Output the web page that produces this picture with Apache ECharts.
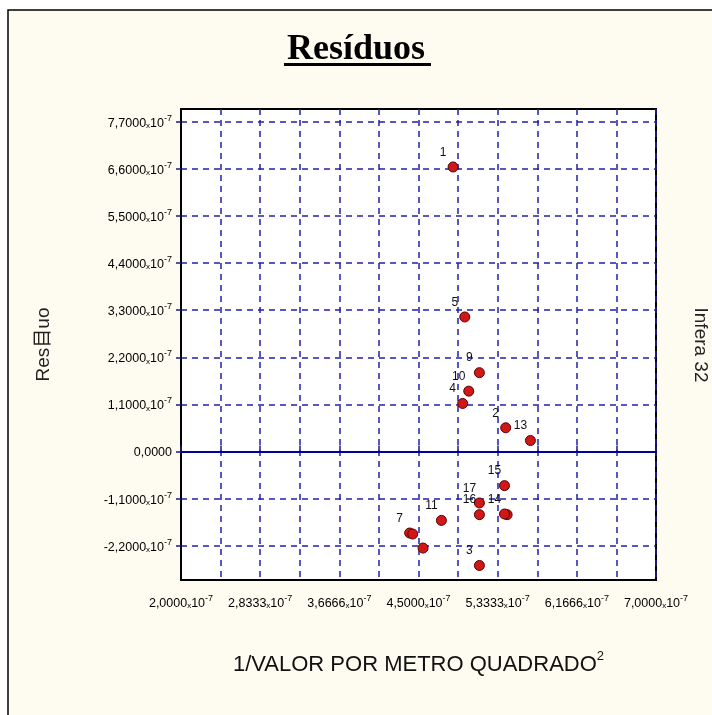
<!DOCTYPE html>
<html>
<head>
<meta charset="utf-8">
<script src="https://cdn.jsdelivr.net/npm/echarts@6/dist/echarts.min.js"></script>
<style>html,body{margin:0;padding:0;background:#fff}#c{width:712px;height:715px}</style>
</head>
<body>
<div id="c"></div>
<script>
// Data (x and y in units of 10^-7)
const pointIds = ['1','2','3','4','5','6','7','8','9','10','11','12','13','14','15','16','17'];
const xValues = [4.864, 5.418, 5.141, 4.965, 4.987, 4.548, 4.407, 4.439, 5.141, 5.029, 4.741, 5.433, 5.678, 5.405, 5.405, 5.141, 5.141];
const yValues = [6.646, 0.555, -2.661, 1.123, 3.143, -2.254, -1.903, -1.926, 1.842, 1.411, -1.608, -1.474, 0.257, -1.458, -0.796, -1.474, -1.201];
const hiddenLabels = ['6','8','12'];

// Axis ticks and labels
const xGridTicks = [2, 2.41667, 2.83333, 3.25, 3.66667, 4.08333, 4.5, 4.91667, 5.33333, 5.75, 6.16667, 6.58333, 7];
const xLabelValues = [2, 2.83333, 3.66667, 4.5, 5.33333, 6.16667, 7];
const xLabelTexts = ['2,0000','2,8333','3,6666','4,5000','5,3333','6,1666','7,0000'];
const yTickValues = [-2.2, -1.1, 0, 1.1, 2.2, 3.3, 4.4, 5.5, 6.6, 7.7];
const yLabelTexts = ['-2,2000','-1,1000','0,0000','1,1000','2,2000','3,3000','4,4000','5,5000','6,6000','7,7000'];

const titleText = 'Resíduos';
const xName = '1/VALOR POR METRO QUADRADO';
const yName = 'Res目uo';
const rightText = 'Infera 32';

function findLabel(vals, texts, v) {
  for (let i = 0; i < vals.length; i++) if (Math.abs(vals[i] - v) < 1e-3) return texts[i];
  return '';
}
function sci(t) {
  if (t === '0,0000') return '{n|' + t + '}';
  return '{n|' + t + '}{x|x}{n|10}{s|-7}';
}
const labelRich = {
  n: {fontSize: 12.5, fontFamily: 'Liberation Sans', color: '#000', lineHeight: 16, verticalAlign: 'bottom'},
  x: {fontSize: 8, fontFamily: 'Liberation Sans', color: '#000', lineHeight: 16, verticalAlign: 'bottom'},
  s: {fontSize: 9, fontFamily: 'Liberation Sans', color: '#000', lineHeight: 9, verticalAlign: 'top'}
};

const chart = echarts.init(document.getElementById('c'), null, {renderer: 'canvas'});
const data = pointIds.map((id, i) => {
  const item = {name: id, value: [xValues[i], yValues[i]]};
  if (hiddenLabels.indexOf(id) >= 0) item.label = {show: false};
  return item;
});

chart.setOption({
  backgroundColor: '#ffffff',
  animation: false,
  title: {
    text: titleText,
    left: 'center',
    top: 27,
    textStyle: {fontFamily: 'Liberation Serif', fontWeight: 'bold', fontSize: 36, color: '#000'}
  },
  graphic: [
    {type: 'rect', z: -10, silent: true, shape: {x: 8, y: 10, width: 720, height: 720},
     style: {fill: '#fefbf1', stroke: '#000', lineWidth: 1.5}},
    {type: 'rect', z: 10, silent: true, shape: {x: 284, y: 63, width: 147, height: 3},
     style: {fill: '#000'}},
    {type: 'text', z: 10, silent: true, x: 700, y: 345, rotation: -Math.PI / 2,
     style: {text: rightText, fontFamily: 'Liberation Sans', fontSize: 19, fill: '#222',
             align: 'center', verticalAlign: 'middle'}}
  ],
  grid: {
    left: 181, right: 56, top: 109, bottom: 135,
    show: true, backgroundColor: '#ffffff', borderColor: '#000', borderWidth: 2
  },
  xAxis: {
    type: 'value', min: 2, max: 7,
    name: '{a|' + xName + '}{b|2}',
    nameLocation: 'middle', nameGap: 70,
    nameTextStyle: {
      rich: {
        a: {fontSize: 22, fontFamily: 'Liberation Sans', color: '#111', lineHeight: 26, verticalAlign: 'bottom'},
        b: {fontSize: 13, fontFamily: 'Liberation Sans', color: '#111', lineHeight: 13, verticalAlign: 'top'}
      }
    },
    axisLine: {show: true, lineStyle: {color: '#000', width: 2}},
    axisTick: {show: true, inside: true, length: 6, customValues: xGridTicks, lineStyle: {color: '#1a1a80', width: 1.5}},
    axisLabel: {
      customValues: xLabelValues, margin: 14,
      formatter: v => sci(findLabel(xLabelValues, xLabelTexts, v)),
      rich: labelRich
    },
    splitLine: {show: true, lineStyle: {color: '#2020a8', width: 1.5, type: [6, 5]}}
  },
  yAxis: {
    type: 'value', min: -3, max: 8,
    name: yName, nameLocation: 'middle', nameGap: 128, nameRotate: 90,
    nameTextStyle: {fontSize: 19, fontFamily: 'Liberation Sans, Noto Sans CJK SC', color: '#222'},
    axisLine: {show: true, lineStyle: {color: '#000', width: 2}},
    axisTick: {show: true, inside: false, length: 5, customValues: yTickValues, lineStyle: {color: '#1a1a80', width: 1.5}},
    axisLabel: {
      customValues: yTickValues, margin: 9,
      formatter: v => sci(findLabel(yTickValues, yLabelTexts, v)),
      rich: labelRich
    },
    splitLine: {show: true, lineStyle: {color: '#2020a8', width: 1.5, type: [6, 5]}}
  },
  series: [{
    type: 'scatter',
    data: data,
    symbol: 'circle',
    symbolSize: 10,
    itemStyle: {color: '#d01818', borderColor: '#5a0000', borderWidth: 1, opacity: 1},
    label: {
      show: true, position: 'top', distance: 3, offset: [-10, 0],
      formatter: p => p.name,
      fontSize: 12, fontFamily: 'Liberation Sans', color: '#111'
    },
    markLine: {
      silent: true, symbol: 'none', label: {show: false},
      lineStyle: {color: '#0000d0', width: 1.5, type: 'solid'},
      data: [{yAxis: 0}]
    },
    z: 5
  }]
});
</script>
</body>
</html>
